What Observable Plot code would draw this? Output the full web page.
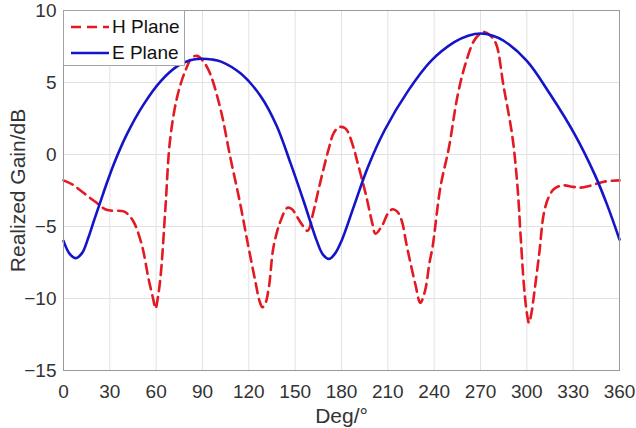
<!DOCTYPE html>
<html>
<head>
<meta charset="utf-8">
<script src="https://cdn.jsdelivr.net/npm/d3@7"></script>
<script src="https://cdn.jsdelivr.net/npm/@observablehq/plot@0.6"></script>
<style>
  body { margin: 0; background: #fff; }
  #wrap { position: relative; width: 636px; height: 428px; font-family: "Liberation Sans", Arial, sans-serif; }
  #legend { position: absolute; left: 63px; top: 10px; width: 122px; height: 56px; background: #fff;
            border: 1px solid #a3a3a3; box-sizing: border-box; }
  .lrow { position: absolute; left: 0; height: 22px; width: 120px; }
  .lrow svg { position: absolute; left: 6px; top: 0; }
  .lrow span { position: absolute; left: 48px; top: 0; font-size: 19px; line-height: 22px; color: #111; }
  g[aria-label="y-axis label"] text, g[aria-label="x-axis label"] text { font-size: 21px; }
</style>
</head>
<body>
<div id="wrap"></div>
<script>
// ---- data ----
const xTicks = [0, 30, 60, 90, 120, 150, 180, 210, 240, 270, 300, 330, 360];
const yTicks = [-15, -10, -5, 0, 5, 10];

const seriesNames = ["H Plane", "E Plane"];

const degE = [0, 4, 8, 12, 16, 20, 24, 28, 33, 41, 52, 63, 74, 82, 89, 96, 102, 115, 128, 138, 147, 156, 164, 168, 172, 176, 180, 188, 197, 208, 223, 238, 253, 262, 270, 278, 285, 300, 315, 331, 344, 352, 360];
const gainE = [-6.0, -6.9, -7.2, -6.85, -5.8, -4.5, -3.25, -2.0, -0.55, 1.4, 3.5, 5.1, 6.15, 6.55, 6.65, 6.6, 6.45, 5.6, 4.0, 2.0, -0.6, -3.4, -6.0, -6.95, -7.25, -6.85, -6.0, -3.6, -0.9, 1.7, 4.4, 6.5, 7.8, 8.25, 8.4, 8.25, 7.9, 6.5, 4.2, 1.4, -1.4, -3.5, -5.9];

const degH = [0, 6, 11, 17, 22, 27, 31, 39, 43, 46, 51, 55, 58, 59.6, 61, 63, 66, 69, 73.6, 79, 83.4, 86.5, 91, 95, 102, 108, 114, 119, 124, 127, 128.7, 130.5, 133, 136, 140.6, 145, 148, 150, 154, 158, 162, 165, 168.6, 172, 175, 178.5, 182, 184, 188, 190, 195.6, 200, 202, 206.5, 210, 213, 216, 219, 222, 225, 228, 231, 234, 237, 239, 244, 249.6, 255, 260, 265.8, 270, 272.5, 276, 280, 285, 290.7, 294, 296, 298.2, 300, 301.4, 303, 304.7, 308, 311, 314, 317.6, 323, 330, 335, 340, 346, 352, 360];
const gainH = [-1.8, -2.1, -2.5, -3.0, -3.4, -3.8, -3.9, -3.95, -4.3, -4.8, -6.4, -8.6, -10.0, -10.7, -10.0, -8.3, -3.7, 1.0, 4.0, 5.85, 6.75, 6.85, 6.4, 5.6, 3.0, -0.2, -3.2, -6.0, -8.7, -10.2, -10.6, -10.4, -9.2, -6.4, -4.6, -3.7, -3.8, -4.1, -4.8, -5.3, -3.9, -2.5, -0.9, 0.5, 1.5, 1.9, 1.85, 1.6, 0.4, -0.4, -2.7, -4.8, -5.5, -4.9, -4.1, -3.8, -3.95, -4.6, -6.2, -7.7, -9.1, -10.3, -9.5, -7.5, -6.4, -2.3, 0.5, 4.0, 6.2, 7.9, 8.4, 8.5, 8.3, 7.7, 4.7, 1.2, -2.3, -5.7, -9.2, -11.0, -11.7, -11.0, -9.7, -6.9, -4.1, -3.0, -2.4, -2.15, -2.25, -2.3, -2.2, -2.0, -1.85, -1.8];

const colorH = "#e41a22";
const colorE = "#1414c8";

// ---- build tables ----
const E = degE.map((d, i) => ({deg: d, gain: gainE[i]}));
const H = degH.map((d, i) => ({deg: d, gain: gainH[i]}));

const chart = Plot.plot({
  width: 636,
  height: 428,
  marginLeft: 63,
  marginRight: 17,
  marginTop: 10,
  marginBottom: 58,
  style: {fontFamily: "'Liberation Sans', Arial, sans-serif", fontSize: "19px", color: "#333", background: "#fff"},
  x: {domain: [0, 360]},
  y: {domain: [-15, 10]},
  marks: [
    Plot.gridX(xTicks, {stroke: "#e2e2e2", strokeOpacity: 1}),
    Plot.gridY(yTicks, {stroke: "#e2e2e2", strokeOpacity: 1}),
    Plot.line(H, {x: "deg", y: "gain", stroke: colorH, strokeWidth: 2.6, strokeDasharray: "10,6", curve: "catmull-rom"}),
    Plot.line(E, {x: "deg", y: "gain", stroke: colorE, strokeWidth: 2.6, curve: "catmull-rom"}),
    Plot.frame({stroke: "#9a9a9a"}),
    Plot.axisX(xTicks, {tickSize: 0, tickPadding: 14, label: "Deg/°", labelAnchor: "center", labelArrow: "none", labelOffset: 52}),
    Plot.axisY(yTicks, {tickSize: 0, tickPadding: 7, label: "Realized Gain/dB", labelAnchor: "center", labelArrow: "none", labelOffset: 53})
  ]
});

const wrap = document.getElementById("wrap");
wrap.appendChild(chart);

// legend
const legend = document.createElement("div");
legend.id = "legend";
const styles = [{color: colorH, dash: "10,6"}, {color: colorE, dash: null}];
seriesNames.forEach((name, i) => {
  const row = document.createElement("div");
  row.className = "lrow";
  row.style.top = (i === 0 ? 5 : 31) + "px";
  const s = styles[i];
  row.innerHTML = `<svg width="40" height="22"><line x1="1" x2="39" y1="11" y2="11" stroke="${s.color}" stroke-width="2.6" ${s.dash ? `stroke-dasharray="${s.dash}"` : ""}/></svg><span>${name}</span>`;
  legend.appendChild(row);
});
wrap.appendChild(legend);
</script>
</body>
</html>
